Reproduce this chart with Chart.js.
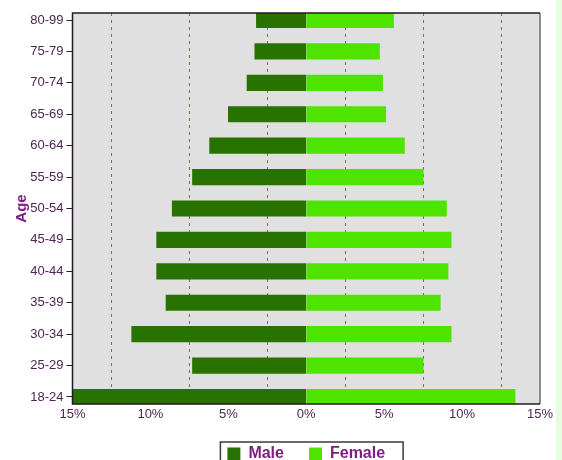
<!DOCTYPE html>
<html>
<head>
<meta charset="utf-8">
<script src="https://cdn.jsdelivr.net/npm/chart.js@4.4.1/dist/chart.umd.min.js"></script>
<style>
  html, body { margin: 0; padding: 0; background: #fff; overflow: hidden; }
  #wrap { position: relative; width: 556px; height: 472px; }
  #strip { position: absolute; left: 556px; top: 0; width: 6px; height: 460px; background: #e6fde0; }
</style>
</head>
<body>
<div id="wrap"><canvas id="pyramid"></canvas></div>
<div id="strip"></div>
<script>
// age groups, youngest first (bottom of the chart)
const ageGroups = ['18-24', '25-29', '30-34', '35-39', '40-44', '45-49', '50-54',
                   '55-59', '60-64', '65-69', '70-74', '75-79', '80-99'];
// percent of population
const male   = [15.0, 7.3, 11.2, 9.0, 9.6, 9.6, 8.6, 7.3, 6.2, 5.0, 3.8, 3.3, 3.2];
const female = [13.4, 7.5, 9.3, 8.6, 9.1, 9.3, 9.0, 7.5, 6.3, 5.1, 4.9, 4.7, 5.6];
// labelled ticks on the x axis, and the dashed grid lines between them
const tickLabels = [-15, -10, -5, 0, 5, 10, 15];
const gridValues = [-12.5, -7.5, -2.5, 2.5, 7.5, 12.5];

const fontFamily = '"Liberation Sans", Arial, sans-serif';
const tickColor = '#4e2456';
const titleColor = '#7d1f82';

const plotFrame = {
  id: 'plotFrame',
  beforeDraw(chart) {
    const { ctx, chartArea: a } = chart;
    ctx.save();
    ctx.fillStyle = '#e0e0e0';
    ctx.fillRect(a.left, a.top, a.right - a.left, a.bottom - a.top);
    ctx.restore();
  },
  afterDraw(chart) {
    const { ctx, chartArea: a } = chart;
    ctx.save();
    ctx.lineWidth = 1.5;
    ctx.strokeStyle = '#6a6a6a';
    ctx.beginPath();
    ctx.moveTo(a.right, a.top);
    ctx.lineTo(a.right, a.bottom);
    ctx.stroke();
    ctx.strokeStyle = '#221a22';
    ctx.beginPath();
    ctx.moveTo(a.right, a.top);
    ctx.lineTo(a.left, a.top);
    ctx.lineTo(a.left, a.bottom);
    ctx.lineTo(a.right, a.bottom);
    ctx.stroke();

    // box round the legend
    const boxes = chart.legend.legendHitBoxes;
    if (boxes && boxes.length) {
      const first = boxes[0], last = boxes[boxes.length - 1];
      const left = first.left - 7;
      const right = last.left + last.width + 18;
      const top = first.top - 4;
      ctx.lineWidth = 1.5;
      ctx.strokeStyle = '#3a3a3a';
      ctx.strokeRect(left, top, right - left, 40);
    }
    ctx.restore();
  }
};

new Chart(document.getElementById('pyramid'), {
  type: 'bar',
  data: {
    datasets: [
      {
        label: 'Male',
        data: male.map((v, i) => ({ x: -v, y: i })),
        backgroundColor: '#287300',
        grouped: false
      },
      {
        label: 'Female',
        data: female.map((v, i) => ({ x: v, y: i })),
        backgroundColor: '#4ee400',
        grouped: false
      }
    ]
  },
  options: {
    indexAxis: 'y',
    responsive: true,
    maintainAspectRatio: false,
    animation: false,
    barThickness: 15.5,
    layout: { padding: { top: 13, right: 15, left: 0, bottom: 0 } },
    scales: {
      x: {
        type: 'linear',
        min: -15,
        max: 15,
        afterBuildTicks: scale => {
          scale.ticks = [...tickLabels, ...gridValues].sort((a, b) => a - b).map(v => ({ value: v }));
        },
        afterFit: scale => { scale.height = 17; },
        grid: {
          drawTicks: false,
          lineWidth: 1,
          color: ctx => (ctx.tick && tickLabels.includes(ctx.tick.value)) ? 'rgba(0,0,0,0)' : '#806d45'
        },
        border: { display: false, dash: [3, 4] },
        ticks: {
          autoSkip: false,
          maxRotation: 0,
          padding: 3,
          color: tickColor,
          font: { family: fontFamily, size: 13 },
          callback: v => tickLabels.includes(v) ? Math.abs(v) + '%' : ''
        }
      },
      y: {
        type: 'linear',
        offset: false,
        min: -0.223,
        max: 12.223,
        afterBuildTicks: scale => {
          scale.ticks = ageGroups.map((g, i) => ({ value: i }));
        },
        afterFit: scale => { scale.width = 72.5; },
        grid: {
          offset: false,
          drawOnChartArea: false,
          drawTicks: true,
          tickLength: 6,
          color: '#2a1a2a'
        },
        border: { display: false },
        ticks: {
          padding: 3,
          color: tickColor,
          font: { family: fontFamily, size: 13 },
          callback: v => ageGroups[v] ?? ''
        },
        title: {
          display: true,
          text: 'Age',
          color: titleColor,
          padding: { top: 13, bottom: 0 },
          font: { family: fontFamily, size: 15, weight: 'bold' }
        }
      }
    },
    plugins: {
      legend: {
        position: 'bottom',
        fullSize: false,
        labels: {
          boxWidth: 13,
          boxHeight: 13,
          padding: 25,
          color: titleColor,
          font: { family: fontFamily, size: 16, weight: 'bold' }
        }
      },
      tooltip: { enabled: false }
    }
  },
  plugins: [plotFrame]
});
</script>
</body>
</html>
